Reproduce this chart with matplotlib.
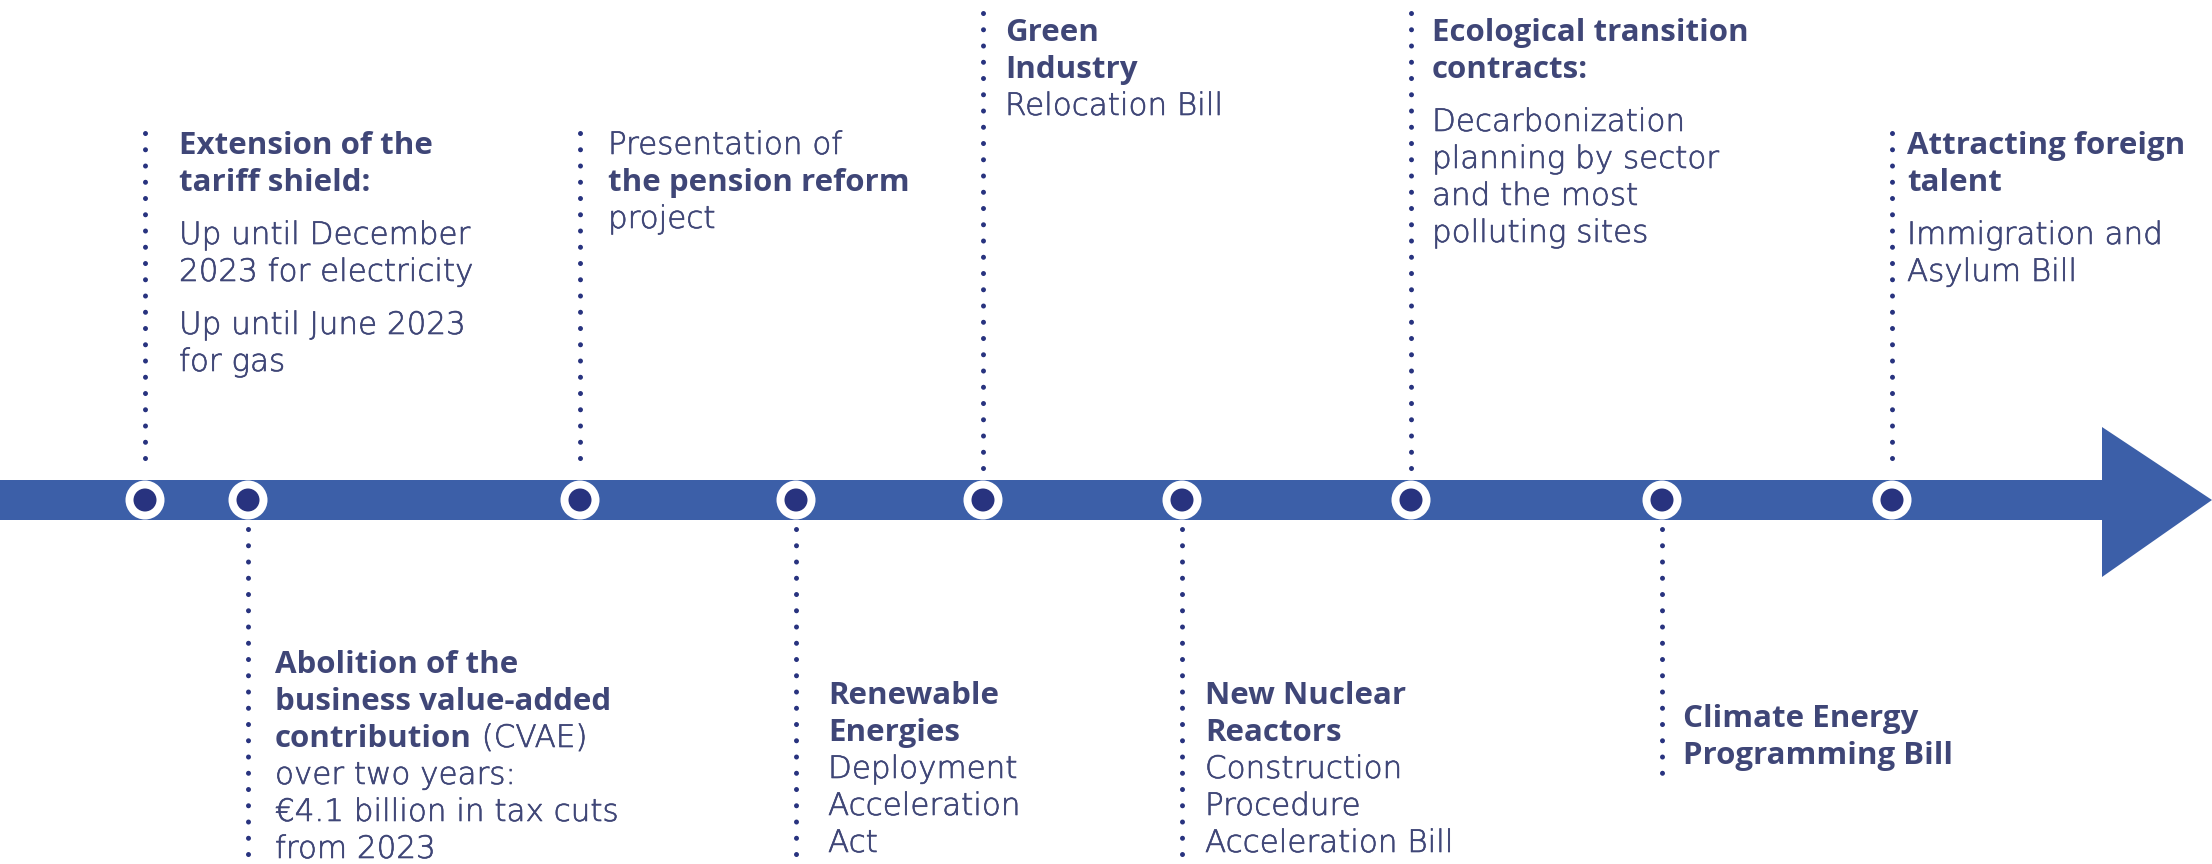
import matplotlib
matplotlib.use("Agg")
import matplotlib.pyplot as plt
import matplotlib.patheffects as pe
from matplotlib.patches import Polygon, Circle, Rectangle

W, H = 2212, 864
DPI = 100

BAR = "#3c5fa8"
NAVY = "#28337f"
TXT = "#3f4677"
BOLD_FONT, BOLD_FS = "Open Sans", 22.5
REG_FONT, REG_FS = "DejaVu Sans", 22.3

# ---- data ----
event_x = [145, 248, 580, 796, 983, 1182, 1411, 1662, 1892]
event_side = ["up", "down", "up", "down", "up", "down", "up", "down", "up"]
text_offset = [34, 27, 28, 32, 22, 23, 21, 21, 15]
first_baseline = [154, 673, 154, 704, 41, 704, 41, 727, 154]
line_top = [133, 529, 133, 529, 13, 529, 13, 529, 133]
line_bottom = [472, 870, 472, 870, 472, 870, 472, 777, 472]

B, R = "b", "r"
event_texts = [
    [[[("Extension of the", B)], [("tariff shield:", B)]],
     [[("Up until December", R)], [("2023 for electricity", R)]],
     [[("Up until June 2023", R)], [("for gas", R)]]],
    [[[("Abolition of the", B)], [("business value-added", B)],
      [("contribution", B), (" (CVAE)", R)], [("over two years:", R)],
      [("€4.1 billion in tax cuts", R)], [("from 2023", R)]]],
    [[[("Presentation of", R)], [("the pension reform", B)], [("project", R)]]],
    [[[("Renewable", B)], [("Energies", B)], [("Deployment", R)],
      [("Acceleration", R)], [("Act", R)]]],
    [[[("Green", B)], [("Industry", B)], [("Relocation Bill", R)]]],
    [[[("New Nuclear", B)], [("Reactors", B)], [("Construction", R)],
      [("Procedure", R)], [("Acceleration Bill", R)]]],
    [[[("Ecological transition", B)], [("contracts:", B)]],
     [[("Decarbonization", R)], [("planning by sector", R)],
      [("and the most", R)], [("polluting sites", R)]]],
    [[[("Climate Energy", B)], [("Programming Bill", B)]]],
    [[[("Attracting foreign", B)], [("talent", B)]],
     [[("Immigration and", R)], [("Asylum Bill", R)]]],
]
STYLE = {B: dict(family=BOLD_FONT, fontsize=BOLD_FS, fontweight="bold"),
         R: dict(family=REG_FONT, fontsize=REG_FS, fontweight=200,
                 path_effects=[pe.withStroke(linewidth=0.45, foreground=TXT)])}

LINE_H = 37
PARA_GAP = 16

fig = plt.figure(figsize=(W / DPI, H / DPI), dpi=DPI)
ax = fig.add_axes([0, 0, 1, 1])
ax.set_xlim(0, W)
ax.set_ylim(H, 0)
ax.axis("off")

# arrow
bar_top, bar_bot = 480, 520
head_x = 2102
ax.add_patch(Rectangle((0, bar_top), head_x, bar_bot - bar_top, color=BAR, lw=0, zorder=1))
ax.add_patch(Polygon([(head_x, 427), (W, 500), (head_x, 577)], closed=True,
                     color=BAR, lw=0, zorder=1))

# dotted connectors
for x, top, bot in zip(event_x, line_top, line_bottom):
    ax.plot([x, x], [top, bot], color=NAVY, lw=3.6,
            linestyle=(0, (0.01, 3.24)), dash_capstyle="round", zorder=2)

# markers
for x in event_x:
    ax.add_patch(Circle((x, 500), 19.5, color="white", lw=0, zorder=3))
    ax.add_patch(Circle((x, 500), 11.5, color=NAVY, lw=0, zorder=4))

renderer = fig.canvas.get_renderer()

for x, off, y0, paras in zip(event_x, text_offset, first_baseline, event_texts):
    y = y0
    for pi, para in enumerate(paras):
        if pi > 0:
            y += PARA_GAP
        for line in para:
            cx = x + off
            for seg, wt in line:
                t = ax.text(cx, y, seg, color=TXT, va="baseline", ha="left",
                            zorder=5, **STYLE[wt])
                bb = t.get_window_extent(renderer=renderer)
                cx += bb.width
            y += LINE_H

fig.savefig("out.png", dpi=DPI)
